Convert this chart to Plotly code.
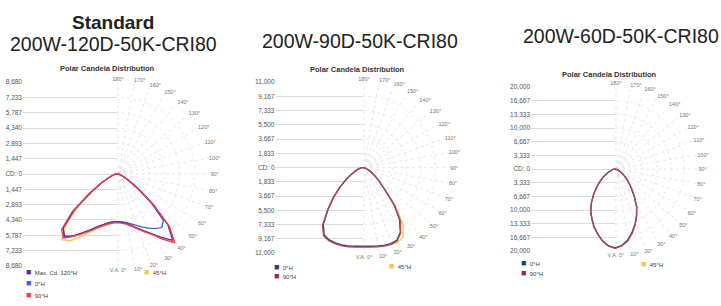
import plotly.graph_objects as go

W, H = 721, 306
FONT = "Liberation Sans, Arial, sans-serif"

# ---------------- data ----------------
VA = [0, 5, 10, 15, 20, 25, 30, 35, 40, 45, 50, 55, 60, 65, 70, 75, 80, 85, 90, 120, 150, 180]

ANGLE_TICKS = [0, 10, 20, 30, 40, 50, 60, 70, 80, 90, 100, 110, 120, 130, 140, 150, 160, 170, 180]
ANGLE_LABELS = ["V.A. 0°", "10°", "20°", "30°", "40°", "50°", "60°", "70°", "80°", "90°",
                "100°", "110°", "120°", "130°", "140°", "150°", "160°", "170°", "180°"]

# Panel 1 : 200W-120D-50K-CRI80
P1_MAX = 8680
P1_CD_TICKS = [1447, 2893, 4340, 5787, 7233, 8680]
P1_CD_LABELS = ["1,447", "2,893", "4,340", "5,787", "7,233", "8,680"]
P1_MAXCD_RIGHT = [4500, 4550, 4700, 5000, 5400, 5900, 6500, 7300, 8200, 6800, 4400, 2500, 1400, 850, 550, 350, 220, 130, 70, 0, 0, 0]
P1_MAXCD_LEFT = [4500, 4550, 4700, 4950, 5300, 5800, 6400, 7100, 7700, 7200, 5300, 3100, 1700, 950, 550, 350, 220, 130, 70, 0, 0, 0]
P1_H0_RIGHT = [4500, 4550, 4650, 4850, 5150, 5500, 5900, 6300, 6600, 6200, 4200, 2400, 1350, 800, 500, 330, 200, 120, 60, 0, 0, 0]
P1_H0_LEFT = [4500, 4550, 4700, 4950, 5300, 5800, 6400, 7200, 7800, 7200, 5300, 3000, 1700, 950, 550, 350, 220, 130, 70, 0, 0, 0]
P1_H90_RIGHT = [4600, 4650, 4800, 5100, 5500, 6000, 6600, 7500, 8500, 7000, 4500, 2600, 1500, 900, 600, 400, 250, 150, 80, 0, 0, 0]
P1_H90_LEFT = [4600, 4650, 4800, 5050, 5400, 5900, 6500, 7200, 7900, 7400, 5500, 3200, 1800, 1000, 600, 400, 250, 150, 80, 0, 0, 0]
P1_H45_RIGHT = [4550, 4600, 4750, 5050, 5450, 5950, 6550, 7450, 8400, 6900, 4400, 2500, 1450, 870, 560, 370, 230, 140, 70, 0, 0, 0]
P1_H45_LEFT = [4550, 4600, 4800, 5100, 5500, 6100, 6800, 7700, 8100, 6800, 4800, 2800, 1600, 900, 550, 350, 220, 130, 70, 0, 0, 0]

# Panel 2 : 200W-90D-50K-CRI80
P2_MAX = 11000
P2_CD_TICKS = [1833, 3667, 5500, 7333, 9167, 11000]
P2_CD_LABELS = ["1,833", "3,667", "5,500", "7,333", "9,167", "11,000"]
P2_H0_RIGHT = [10100, 10150, 10250, 10350, 10400, 10300, 9600, 8200, 6200, 3900, 2700, 1900, 1300, 900, 600, 400, 250, 150, 80, 0, 0, 0]
P2_H0_LEFT = [10100, 10150, 10250, 10300, 10300, 10250, 10000, 8900, 7000, 5300, 3800, 2650, 1750, 1150, 750, 480, 290, 190, 100, 0, 0, 0]
P2_H90_RIGHT = [10200, 10250, 10350, 10450, 10500, 10400, 9700, 8400, 6300, 3900, 2700, 1900, 1300, 900, 600, 400, 250, 150, 80, 0, 0, 0]
P2_H90_LEFT = [10200, 10250, 10350, 10400, 10400, 10350, 10150, 9100, 7100, 5400, 3900, 2700, 1800, 1200, 800, 500, 300, 200, 100, 0, 0, 0]
P2_H45_RIGHT = [10150, 10200, 10300, 10450, 10550, 10600, 10300, 9000, 6600, 4000, 2750, 1950, 1350, 920, 620, 410, 260, 160, 80, 0, 0, 0]
P2_H45_LEFT = [10150, 10200, 10300, 10400, 10450, 10400, 10100, 8900, 6900, 5200, 3800, 2650, 1750, 1150, 750, 480, 290, 190, 100, 0, 0, 0]

# Panel 3 : 200W-60D-50K-CRI80
P3_MAX = 20000
P3_CD_TICKS = [3333, 6667, 10000, 13333, 16667, 20000]
P3_CD_LABELS = ["3,333", "6,667", "10,000", "13,333", "16,667", "20,000"]
P3_H0_RIGHT = [19200, 18700, 17600, 16000, 14300, 12400, 10500, 8200, 6300, 4800, 3600, 2650, 1850, 1250, 880, 580, 370, 210, 100, 0, 0, 0]
P3_H0_LEFT = [19200, 18700, 17700, 16300, 14900, 13300, 11800, 10000, 8100, 6400, 4900, 3600, 2600, 1750, 1150, 760, 480, 280, 140, 0, 0, 0]
P3_H90_RIGHT = [19300, 18800, 17800, 16200, 14400, 12500, 10600, 8300, 6400, 4900, 3700, 2700, 1900, 1300, 900, 600, 380, 220, 100, 0, 0, 0]
P3_H90_LEFT = [19300, 18800, 17800, 16400, 15000, 13400, 11900, 10100, 8200, 6500, 5000, 3700, 2700, 1800, 1200, 800, 500, 300, 150, 0, 0, 0]
P3_H45_RIGHT = [19250, 18750, 17700, 16100, 14350, 12450, 10550, 8250, 6350, 4850, 3650, 2680, 1880, 1280, 890, 590, 375, 215, 100, 0, 0, 0]
P3_H45_LEFT = [19250, 18750, 17750, 16350, 14950, 13350, 11850, 10050, 8150, 6450, 4950, 3650, 2650, 1770, 1170, 780, 490, 290, 145, 0, 0, 0]

# ---------------- styling / layout ----------------
PURPLE, BLUE, RED, YELLOW = "#6b2d8c", "#3f5fd0", "#e8405a", "#f0c850"
NAVY, MAROON = "#2c3e7a", "#9a2a50"
MAROON_LINE = "#b04868"

def fx(x):
    return x / W

def fy(y):
    return 1 - y / H

panels = [
    dict(cx=117, cy=174, R=94, cdmax=P1_MAX, ticks=P1_CD_TICKS, labels=P1_CD_LABELS,
         series=[("45°H", YELLOW, P1_H45_RIGHT, P1_H45_LEFT),
                 ("0°H", BLUE, P1_H0_RIGHT, P1_H0_LEFT),
                 ("Max. Cd. 120°H", PURPLE, P1_MAXCD_RIGHT, P1_MAXCD_LEFT),
                 ("90°H", RED, P1_H90_RIGHT, P1_H90_LEFT)],
         sub=(108, 66)),
    dict(cx=363, cy=167.5, R=87.5, cdmax=P2_MAX, ticks=P2_CD_TICKS, labels=P2_CD_LABELS,
         series=[("45°H", YELLOW, P2_H45_RIGHT, P2_H45_LEFT),
                 ("0°H", NAVY, P2_H0_RIGHT, P2_H0_LEFT),
                 ("90°H", MAROON_LINE, P2_H90_RIGHT, P2_H90_LEFT)],
         sub=(357, 67)),
    dict(cx=615, cy=169, R=84, cdmax=P3_MAX, ticks=P3_CD_TICKS, labels=P3_CD_LABELS,
         series=[("45°H", YELLOW, P3_H45_RIGHT, P3_H45_LEFT),
                 ("0°H", NAVY, P3_H0_RIGHT, P3_H0_LEFT),
                 ("90°H", MAROON_LINE, P3_H90_RIGHT, P3_H90_LEFT)],
         sub=(609, 72)),
]

fig = go.Figure()
layout = dict(width=W, height=H, autosize=False, margin=dict(l=0, r=0, t=0, b=0),
              paper_bgcolor="white", plot_bgcolor="rgba(0,0,0,0)", showlegend=False,
              font=dict(family=FONT, color="#333"))
annotations = []

for i, p in enumerate(panels):
    k = i + 1
    cx, cy, R, cdmax = p["cx"], p["cy"], p["R"], p["cdmax"]
    xname = "xaxis" if k == 1 else f"xaxis{k}"
    yname = "yaxis" if k == 1 else f"yaxis{k}"
    xref = "x" if k == 1 else f"x{k}"
    yref = "y" if k == 1 else f"y{k}"
    ydom = [fy(cy + R), fy(cy - R)]
    layout[xname] = dict(domain=[fx(cx - R), fx(cx)], range=[0, 1], visible=False,
                         fixedrange=True, anchor=yref)
    tv = [-t for t in p["ticks"][::-1]] + [0] + p["ticks"]
    tt = p["labels"][::-1] + ["CD: 0"] + p["labels"]
    layout[yname] = dict(domain=ydom, range=[-cdmax, cdmax], tickmode="array",
                         tickvals=tv, ticktext=tt, showgrid=True, gridcolor="#dcdcdc",
                         gridwidth=1, zeroline=False, showline=False, ticks="",
                         tickfont=dict(size=6.5, color="#555"), anchor=xref, fixedrange=True)
    fig.add_trace(go.Scatter(x=[None], y=[None], xaxis=xref, yaxis=yref,
                             showlegend=False, hoverinfo="skip"))

    g = 2 * i + 1
    c = 2 * i + 2
    gname = "polar" if g == 1 else f"polar{g}"
    cname = f"polar{c}"
    layout[gname] = dict(
        domain=dict(x=[fx(cx), fx(cx + R)], y=ydom), sector=[-90, 90],
        bgcolor="rgba(0,0,0,0)",
        angularaxis=dict(rotation=-90, direction="counterclockwise", tickmode="array",
                         tickvals=ANGLE_TICKS, ticktext=ANGLE_LABELS, showline=False,
                         ticks="", gridcolor="#e6e6e6", griddash="dot",
                         tickfont=dict(size=5.5, color="#777")),
        radialaxis=dict(range=[0, cdmax], tickmode="array", tickvals=p["ticks"],
                        showticklabels=False, ticks="", showline=False,
                        gridcolor="#ebebeb", griddash="dot"))
    # empty trace so that the grid subplot is created
    fig.add_trace(go.Scatterpolar(r=[None], theta=[None], subplot=gname, mode="lines",
                                  showlegend=False, hoverinfo="skip"))
    layout[cname] = dict(
        domain=dict(x=[fx(cx - R), fx(cx + R)], y=ydom), bgcolor="rgba(0,0,0,0)",
        angularaxis=dict(rotation=-90, direction="counterclockwise", visible=False,
                         showgrid=False, showticklabels=False, showline=False, ticks=""),
        radialaxis=dict(range=[0, cdmax], visible=False, showgrid=False,
                        showticklabels=False, showline=False, ticks=""))

    for name, color, right, left in p["series"]:
        theta = VA + [360 - v for v in VA[::-1]]
        r = right + left[::-1]
        fig.add_trace(go.Scatterpolar(r=r, theta=theta, mode="lines", name=name,
                                      line=dict(color=color, width=1.3),
                                      subplot=cname, showlegend=False, hoverinfo="skip"))

    sx, sy = p["sub"]
    annotations.append(dict(text="<b>Polar Candela Distribution</b>", x=fx(sx), y=fy(sy),
                            xref="paper", yref="paper", showarrow=False, xanchor="center",
                            yanchor="middle", font=dict(size=7.5, color="#333")))

# Titles
titles = [("<b>Standard</b>", 113, 18.5, 19), ("200W-120D-50K-CRI80", 113.5, 40.5, 19.5),
          ("200W-90D-50K-CRI80", 360, 37.5, 19.5), ("200W-60D-50K-CRI80", 621, 32.5, 19.5)]
for t, x, y, s in titles:
    annotations.append(dict(text=t, x=fx(x), y=fy(y), xref="paper", yref="paper",
                            showarrow=False, xanchor="center", yanchor="middle",
                            font=dict(size=s, color="#222")))

# Legend entries (coloured squares + labels)
legend_rows = [
    ("Max. Cd. 120°H", PURPLE, 24, 274.5), ("0°H", BLUE, 24, 285.5), ("90°H", RED, 24, 297.5),
    ("45°H", YELLOW, 142, 274.5),
    ("0°H", NAVY, 272, 269.5), ("90°H", MAROON, 272, 278.5), ("45°H", YELLOW, 387, 268.5),
    ("0°H", NAVY, 519, 265.5), ("90°H", MAROON, 519, 275), ("45°H", YELLOW, 639, 266),
]
for name, color, x, y in legend_rows:
    annotations.append(dict(
        text=f'<span style="color:{color};font-size:9px">■</span>  {name}',
        x=fx(x), y=fy(y), xref="paper", yref="paper", showarrow=False,
        xanchor="left", yanchor="middle", font=dict(size=6, color="#444")))

layout["annotations"] = annotations
fig.update_layout(**layout)
fig.write_html("out.html", config={"displayModeBar": False},
               post_script="document.body.style.margin='0';document.body.style.overflow='hidden';")
